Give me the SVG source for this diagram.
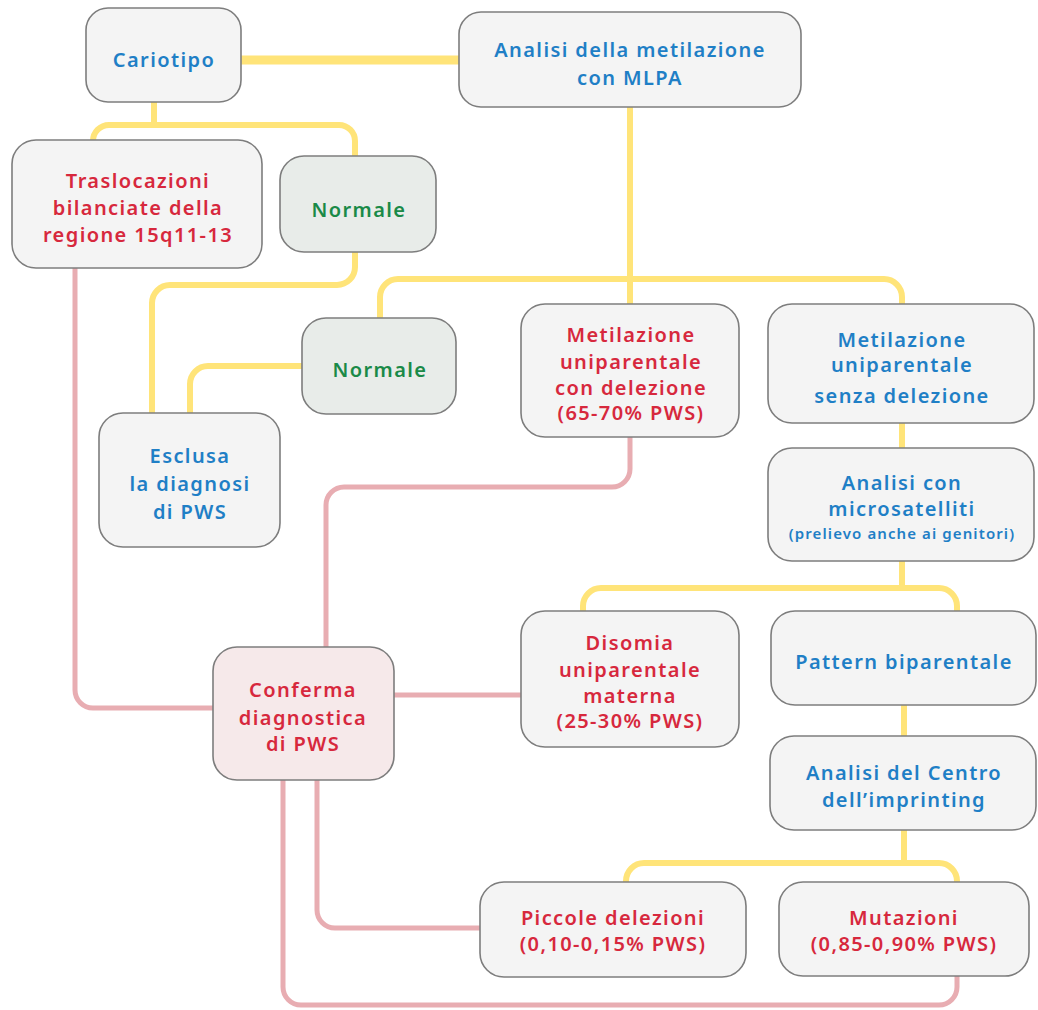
<svg xmlns="http://www.w3.org/2000/svg" width="1038" height="1010" viewBox="0 0 1038 1010">
<style>
.box{fill:#f4f4f4;stroke:#7d7d7d;stroke-width:1.6}
.green{fill:#e8ece9}
.pinkbox{fill:#f6e9ea}
text{font-family:"Noto Sans","Open Sans",sans-serif;font-weight:600;font-size:20px;letter-spacing:1.4px;text-anchor:middle}
.b{fill:#1f7fc6}
.r{fill:#d7283d}
.g{fill:#1a8a48}
.y{fill:none;stroke:#ffe479;stroke-width:6}
.p{fill:none;stroke:#e8adb2;stroke-width:5}
</style>
<rect width="1038" height="1010" fill="#ffffff"/>
<g id="connectors">
<path class="y" d="M241,60 H459" style="stroke-width:9"/>
<path class="y" d="M154,102 V125"/>
<path class="y" d="M93,141 A16,16 0 0 1 109,125 H339 A16,16 0 0 1 355,141 V156"/>
<path class="y" d="M355,252 V267 A18,18 0 0 1 337,285 H170 A18,18 0 0 0 152,303 V413"/>
<path class="y" d="M630,107 V304"/>
<path class="y" d="M380,318 V297 A18,18 0 0 1 398,279 H884 A18,18 0 0 1 902,297 V304"/>
<path class="y" d="M302,366 H208 A18,18 0 0 0 190,384 V413"/>
<path class="y" d="M902,423 V448"/>
<path class="y" d="M902,561 V588"/>
<path class="y" d="M583,611 V606 A18,18 0 0 1 601,588 H939 A18,18 0 0 1 957,606 V611"/>
<path class="y" d="M904,705 V736"/>
<path class="y" d="M904,830 V863"/>
<path class="y" d="M626,882 V881 A18,18 0 0 1 644,863 H939 A18,18 0 0 1 957,881 V882"/>
<path class="p" d="M75,268 V690 A18,18 0 0 0 93,708 H213"/>
<path class="p" d="M630,437 V469 A18,18 0 0 1 612,487 H344 A18,18 0 0 0 326,505 V647"/>
<path class="p" d="M394,695 H521"/>
<path class="p" d="M317,780 V910 A18,18 0 0 0 335,928 H480"/>
<path class="p" d="M283,780 V987 A18,18 0 0 0 301,1005 H939 A18,18 0 0 0 957,987 V976"/>
</g>
<g id="cariotipo">
<rect class="box" x="86" y="8" width="155" height="94" rx="22"/>
<text class="b" x="164" y="67">Cariotipo</text>
</g>
<g id="mlpa">
<rect class="box" x="459" y="12" width="342" height="95" rx="22"/>
<text class="b" x="630" y="57">Analisi della metilazione</text>
<text class="b" x="630" y="85">con MLPA</text>
</g>
<g id="traslocazioni">
<rect class="box" x="12" y="140" width="250" height="128" rx="24"/>
<text class="r" x="138" y="188">Traslocazioni</text>
<text class="r" x="138" y="215">bilanciate della</text>
<text class="r" x="138" y="242">regione 15q11-13</text>
</g>
<g id="normale1">
<rect class="box green" x="280" y="156" width="156" height="96" rx="24"/>
<text class="g" x="359" y="217">Normale</text>
</g>
<g id="normale2">
<rect class="box green" x="302" y="318" width="154" height="96" rx="24"/>
<text class="g" x="380" y="377">Normale</text>
</g>
<g id="esclusa">
<rect class="box" x="99" y="413" width="181" height="134" rx="24"/>
<text class="b" x="190" y="463">Esclusa</text>
<text class="b" x="190" y="491">la diagnosi</text>
<text class="b" x="190" y="519">di PWS</text>
</g>
<g id="met-con-delezione">
<rect class="box" x="521" y="304" width="218" height="133" rx="24"/>
<text class="r" x="631" y="342">Metilazione</text>
<text class="r" x="631" y="369">uniparentale</text>
<text class="r" x="631" y="395">con delezione</text>
<text class="r" x="631" y="420">(65-70% PWS)</text>
</g>
<g id="met-senza-delezione">
<rect class="box" x="768" y="304" width="266" height="119" rx="24"/>
<text class="b" x="902" y="347">Metilazione</text>
<text class="b" x="902" y="372">uniparentale</text>
<text class="b" x="902" y="403">senza delezione</text>
</g>
<g id="microsatelliti">
<rect class="box" x="768" y="448" width="266" height="113" rx="24"/>
<text class="b" x="902" y="490">Analisi con</text>
<text class="b" x="902" y="516">microsatelliti</text>
<text class="b" x="902" y="539" style="font-size:15px;letter-spacing:1.1px">(prelievo anche ai genitori)</text>
</g>
<g id="conferma">
<rect class="box pinkbox" x="213" y="647" width="181" height="133" rx="24"/>
<text class="r" x="303" y="697">Conferma</text>
<text class="r" x="303" y="725">diagnostica</text>
<text class="r" x="303" y="751">di PWS</text>
</g>
<g id="disomia">
<rect class="box" x="521" y="611" width="218" height="136" rx="24"/>
<text class="r" x="630" y="650">Disomia</text>
<text class="r" x="630" y="677">uniparentale</text>
<text class="r" x="630" y="703">materna</text>
<text class="r" x="630" y="728">(25-30% PWS)</text>
</g>
<g id="biparentale">
<rect class="box" x="771" y="611" width="265" height="94" rx="24"/>
<text class="b" x="904" y="669">Pattern biparentale</text>
</g>
<g id="centro-imprinting">
<rect class="box" x="770" y="736" width="266" height="94" rx="24"/>
<text class="b" x="904" y="780">Analisi del Centro</text>
<text class="b" x="904" y="807">dell’imprinting</text>
</g>
<g id="piccole-delezioni">
<rect class="box" x="480" y="882" width="266" height="95" rx="24"/>
<text class="r" x="613" y="925">Piccole delezioni</text>
<text class="r" x="613" y="951">(0,10-0,15% PWS)</text>
</g>
<g id="mutazioni">
<rect class="box" x="779" y="882" width="250" height="94" rx="24"/>
<text class="r" x="904" y="925">Mutazioni</text>
<text class="r" x="904" y="951">(0,85-0,90% PWS)</text>
</g>
</svg>
